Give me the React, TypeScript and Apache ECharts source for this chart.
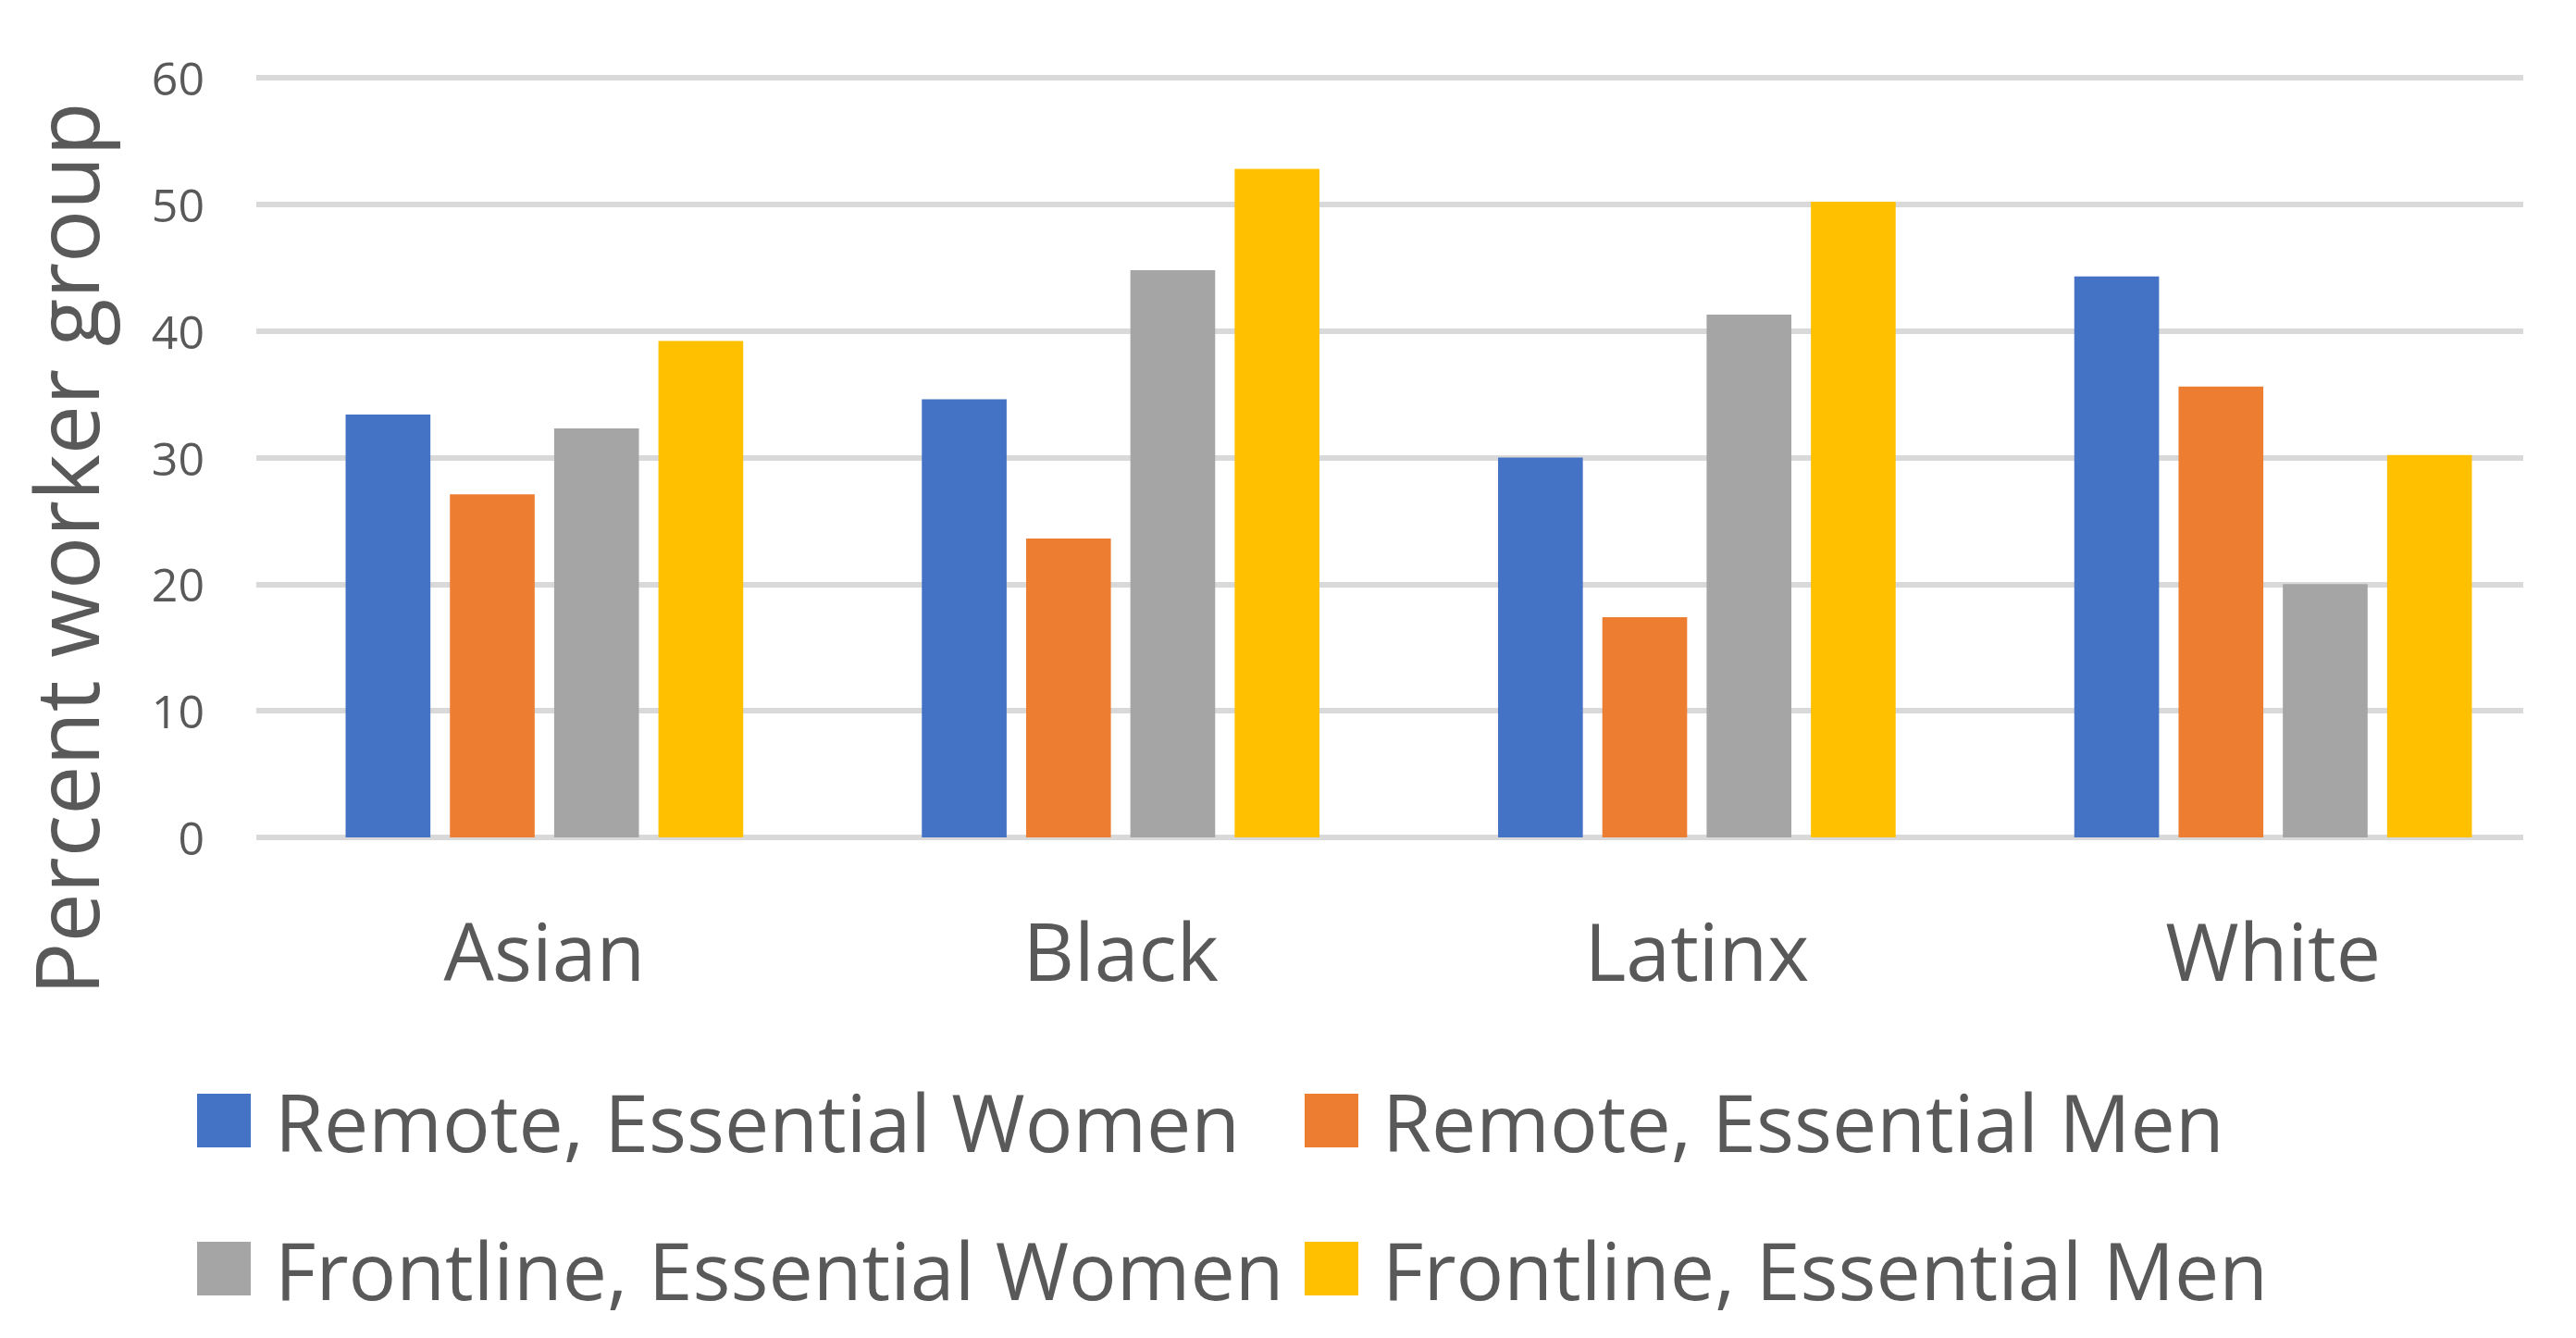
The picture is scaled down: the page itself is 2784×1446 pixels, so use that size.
import React, { useEffect, useRef } from "react";
import * as echarts from "echarts";

const categories = ["Asian", "Black", "Latinx", "White"];
const seriesNames = [
  "Remote, Essential Women",
  "Remote, Essential Men",
  "Frontline, Essential Women",
  "Frontline, Essential Men",
];
const remoteWomen = [33.4, 34.6, 30.0, 44.3];
const remoteMen = [27.1, 23.6, 17.4, 35.6];
const frontlineWomen = [32.3, 44.8, 41.3, 20.0];
const frontlineMen = [39.2, 52.8, 50.2, 30.2];
const seriesValues = [remoteWomen, remoteMen, frontlineWomen, frontlineMen];
const colors = ["#4472C4", "#ED7D31", "#A5A5A5", "#FFC000"];
const yTitle = "Percent worker group";

const FONT = "'Open Sans', 'Noto Sans', sans-serif";
const TEXT = "#595959";
const GRIDC = "#D9D9D9";

export default function App() {
  const ref = useRef<HTMLDivElement>(null);
  useEffect(() => {
    if (!ref.current) return;
    const chart = echarts.init(ref.current, null, { renderer: "svg" });
    const legendLefts = [213, 1410];
    const legendTops = [1168, 1328];
    chart.setOption({
      animation: false,
      backgroundColor: "#ffffff",
      textStyle: { fontFamily: FONT },
      grid: [
        { left: 277, right: 16, top: 84, bottom: 541, containLabel: false },
        { left: 277, right: 57, top: 84, bottom: 541, containLabel: false },
      ],
      legend: seriesNames.map((n, i) => ({
        data: [n],
        left: legendLefts[i % 2],
        top: legendTops[Math.floor(i / 2)],
        orient: "horizontal",
        padding: 0,
        itemWidth: 58,
        itemHeight: 58,
        icon: "rect",
        selectedMode: false,
        textStyle: {
          fontSize: 86,
          color: TEXT,
          fontFamily: FONT,
          lineHeight: 58,
          padding: [0, 0, 0, 21],
        },
      })),
      xAxis: [
        {
          type: "category",
          gridIndex: 0,
          data: categories,
          axisLine: { show: false },
          axisTick: { show: false },
          axisLabel: { fontSize: 86, color: TEXT, margin: 78, fontFamily: FONT },
        },
        {
          type: "category",
          gridIndex: 1,
          data: categories,
          show: false,
        },
      ],
      yAxis: [
        {
          type: "value",
          gridIndex: 0,
          min: 0,
          max: 60,
          interval: 10,
          axisLine: { show: false },
          axisTick: { show: false },
          axisLabel: { fontSize: 50, color: TEXT, margin: 56, fontFamily: FONT },
          splitLine: { show: false },
        },
        {
          type: "value",
          gridIndex: 1,
          min: 0,
          max: 60,
          interval: 10,
          axisLine: { show: false },
          axisTick: { show: false },
          axisLabel: { show: false },
          splitLine: { show: true, lineStyle: { color: GRIDC, width: 6 } },
        },
      ],
      graphic: [
        {
          type: "text",
          x: 70,
          y: 593,
          rotation: Math.PI / 2,
          style: {
            text: yTitle,
            fontSize: 95,
            fill: TEXT,
            fontFamily: FONT,
            textAlign: "center",
            textVerticalAlign: "middle",
          },
        },
      ],
      series: seriesNames.map((n, i) => ({
        name: n,
        type: "bar",
        xAxisIndex: 0,
        yAxisIndex: 0,
        data: seriesValues[i],
        barGap: "23%",
        barCategoryGap: "31%",
        itemStyle: { color: colors[i] },
      })),
    });
    return () => chart.dispose();
  }, []);
  return (
    <div
      ref={ref}
      style={{ position: "fixed", left: 0, top: 0, width: 2784, height: 1446, background: "#fff" }}
    />
  );
}
